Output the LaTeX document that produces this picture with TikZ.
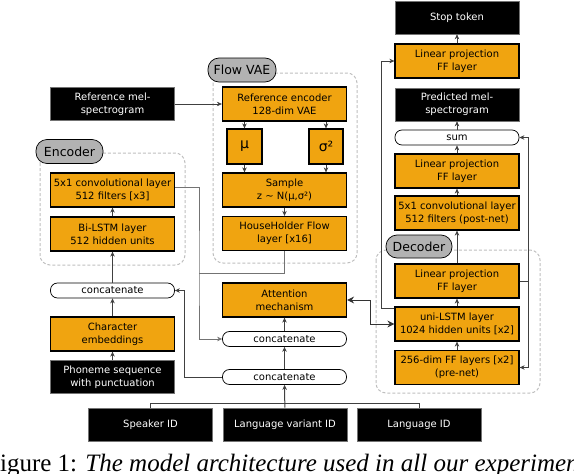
\documentclass[tikz,border=0pt]{standalone}
\usepackage{fontspec}
\setmainfont{DejaVu Sans}
\newfontfamily\capfont{Liberation Serif}
\usetikzlibrary{arrows.meta}
\definecolor{vaeorange}{RGB}{240,164,16}

\begin{document}
\begin{tikzpicture}
  [x=1pt,y=-1pt,font=\fontsize{10}{13}\selectfont,
   block/.style={draw=black,line width=1.2pt,fill=vaeorange,minimum width=124pt,minimum height=34pt,align=center,inner sep=1pt},
   io/.style={draw=black!55,line width=0.6pt,fill=black,text=white,minimum width=124pt,minimum height=33pt,align=center,inner sep=1pt},
   pill/.style={draw=black,line width=0.7pt,fill=white,rounded corners=7pt,minimum width=124pt,minimum height=15pt,inner sep=0pt},
   tag/.style={draw=black,line width=0.7pt,fill=gray!60,rounded corners=11pt,minimum width=67pt,minimum height=24pt,inner sep=1pt,font=\fontsize{12.5}{14}\selectfont},
   group/.style={draw=black!25,dash pattern=on 3pt off 2pt,line width=1pt,rounded corners=10pt},
   arr/.style={draw=black!75,line width=0.7pt,-{Stealth[length=5pt,width=4.5pt]}},
   garr/.style={arr,draw=black!55},
   biarr/.style={draw=black!80,line width=1pt,{Stealth[length=7pt,width=7pt]}-{Stealth[length=7pt,width=7pt]}}]
  \useasboundingbox (0,0) rectangle (574,474);

  % dashed groups
  \draw[group] (40,153) rectangle (185,265);
  \draw[group] (213,73) rectangle (357,263);
  \draw[group] (376,250) rectangle (540,393);

  % encoder
  \node[io] (phoneme) at (112.5,377) {Phoneme sequence\\with punctuation};
  \node[block] (charemb) at (112.5,334) {Character\\embeddings};
  \node[pill] (encconcat) at (112.5,290.5) {concatenate};
  \node[block] (bilstm) at (112.5,234) {Bi-LSTM layer\\512 hidden units};
  \node[block] (encconv) at (112.5,190) {5x1 convolutional layer\\512 filters [x3]};
  \node[tag] (enclabel) at (69.5,151.5) {Encoder};

  % flow vae
  \node[io] (refmel) at (112.5,104) {Reference mel-\\spectrogram};
  \node[block] (refenc) at (284.5,104) {Reference encoder\\128-dim VAE};
  \node[block,minimum width=35pt,minimum height=35pt,font=\fontsize{14}{16}\selectfont] (mu) at (244.5,146.5) {μ};
  \node[block,minimum width=34pt,minimum height=35pt,font=\fontsize{14}{16}\selectfont] (sigma) at (326,146.5) {σ²};
  \node[block] (sample) at (284.5,190) {Sample\\z \textasciitilde{} N(μ,σ²)};
  \node[block] (flow) at (284.5,233.5) {HouseHolder Flow\\layer [x16]};
  \node[tag,minimum width=68pt] (vaelabel) at (242,70) {Flow VAE};

  % attention
  \node[block] (attn) at (284.5,300) {Attention\\mechanism};
  \node[pill] (attconcat) at (284.5,339) {concatenate};
  \node[pill] (botconcat) at (284.5,377) {concatenate};

  % inputs
  \node[io] (speaker) at (150.5,424.5) {Speaker ID};
  \node[io] (langvar) at (285,424.5) {Language variant ID};
  \node[io] (langid) at (419,424.5) {Language ID};

  % decoder
  \node[io] (stop) at (457,17.5) {Stop token};
  \node[block] (stoplin) at (457,61) {Linear projection\\FF layer};
  \node[io] (predmel) at (457,104.5) {Predicted mel-\\spectrogram};
  \node[pill] (sum) at (457,137.5) {sum};
  \node[block] (postlin) at (457,171) {Linear projection\\FF layer};
  \node[block] (postnet) at (457,213) {5x1 convolutional layer\\512 filters (post-net)};
  \node[block] (declin) at (457,281) {Linear projection\\FF layer};
  \node[block] (lstm) at (457,324) {uni-LSTM layer\\1024 hidden units [x2]};
  \node[block] (prenet) at (457,367.5) {256-dim FF layers [x2]\\(pre-net)};
  \node[tag,minimum width=66pt,minimum height=23pt] (declabel) at (419,246.5) {Decoder};

  \coordinate (jA) at (199,273);
  \coordinate (jB) at (184,290.5);
  \coordinate (jC) at (285,403);
  \coordinate (jD) at (370,300);
  \coordinate (jE) at (528,281);
  \coordinate (jF) at (381,308);

  % encoder side
  \draw[arr] (phoneme) -- (charemb);
  \draw[arr] (charemb) -- (encconcat);
  \draw[arr] (encconcat) -- (bilstm);
  \draw[arr] (bilstm) -- (encconv);
  \draw[garr] ([yshift=3pt]encconv.east) -| (jA) |- (attconcat.west);
  \draw[draw=black!55,line width=0.7pt] (flow.south) |- (jA);

  % vae
  \draw[arr] (refmel) -- (refenc);
  \draw[arr] (refenc.south -| mu.north) -- (mu);
  \draw[arr] (refenc.south -| sigma.north) -- (sigma);
  \draw[arr] (mu) -- (sample.north -| mu.south);
  \draw[arr] (sigma) -- (sample.north -| sigma.south);
  \draw[arr] (sample) -- (flow);

  % inputs
  \draw[draw=black!75,line width=0.7pt] (speaker.north) |- (jC);
  \draw[draw=black!75,line width=0.7pt] (langid.north) |- (jC);
  \draw[arr,line width=1pt] (langvar) -- (botconcat);
  \draw[arr] (botconcat) -- (attconcat);
  \draw[arr] (attconcat) -- (attn);
  \draw[arr] (botconcat.west) -| (jB) -- (encconcat.east);

  % attention <-> decoder
  \draw[biarr] (attn.east) -- (jD) |- (lstm.west);

  % decoder
  \draw[arr] (prenet) -- (lstm);
  \draw[arr] (lstm) -- (declin);
  \draw[arr] (declin) -- (postnet);
  \draw[arr] (postnet) -- (postlin);
  \draw[arr] (postlin) -- (sum);
  \draw[arr] (sum) -- (predmel);
  \draw[arr] (stoplin) -- (stop);
  \draw[draw=black!75,line width=0.7pt] (declin.east) -- (jE);
  \draw[arr] (jE) |- (sum.east);
  \draw[arr] (jE) |- (prenet.east);
  \draw[arr] (lstm.west |- jF) -- (jF) |- (stoplin.west);

  % caption
  \node[anchor=base west,inner sep=0pt,font=\capfont\fontsize{25}{28}\selectfont] (caption) at (-14,471) {Figure 1: \textit{The model architecture used in all our experiments.}};
\end{tikzpicture}
\end{document}
